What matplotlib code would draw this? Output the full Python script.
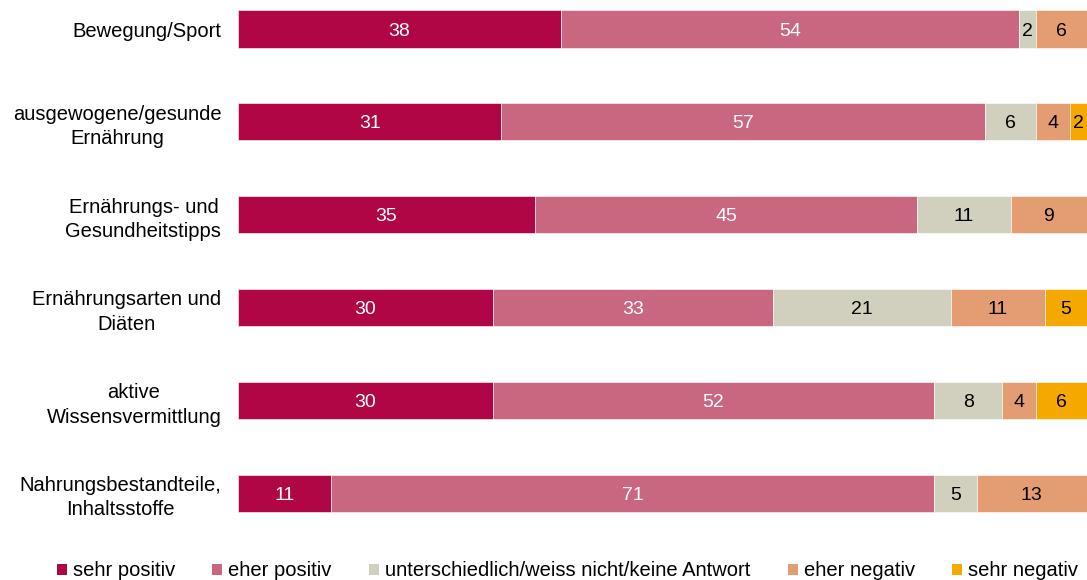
import matplotlib.pyplot as plt
from matplotlib.patches import Patch
import numpy as np

plt.rcParams['font.family'] = ['Liberation Sans', 'DejaVu Sans']

# Kategorien und Anteile in Prozent
categories = ['Bewegung/Sport', 'ausgewogene/gesunde\nErnährung', 'Ernährungs- und\nGesundheitstipps',
              'Ernährungsarten und\nDiäten', 'aktive\nWissensvermittlung', 'Nahrungsbestandteile,\nInhaltsstoffe']
sehr_positiv = [38, 31, 35, 30, 30, 11]
eher_positiv = [54, 57, 45, 33, 52, 71]
unterschiedlich = [2, 6, 11, 21, 8, 5]
eher_negativ = [6, 4, 9, 11, 4, 13]
sehr_negativ = [0, 2, 0, 5, 6, 0]

series = [sehr_positiv, eher_positiv, unterschiedlich, eher_negativ, sehr_negativ]
names = ['sehr positiv', 'eher positiv', 'unterschiedlich/weiss nicht/keine Antwort', 'eher negativ', 'sehr negativ']
colors = ['#B00646', '#C8677F', '#D1D0BF', '#E49D73', '#F5A800']
text_colors = ['white', 'white', 'black', 'black', 'black']

fig = plt.figure(figsize=(10.87, 5.8), dpi=100)
ax = fig.add_axes([238 / 1087, 1 - 520 / 580, 1 - 238 / 1087, 520 / 580])

y = np.arange(len(categories))
left = np.zeros(len(categories))
for vals, col, tcol in zip(series, colors, text_colors):
    vals = np.array(vals, dtype=float)
    bars = ax.barh(y, vals, left=left, height=0.4, color=col, edgecolor='white', linewidth=0.4)
    for b, v in zip(bars, vals):
        if v > 0:
            ax.text(b.get_x() + b.get_width() / 2, b.get_y() + b.get_height() / 2, f'{v:.0f}',
                    ha='center', va='center_baseline', color=tcol, fontsize=14)
    left += vals

ax.set_xlim(0, 100)
ax.set_ylim(5.29, -0.3125)
ax.set_yticks(y)
ax.set_yticklabels(categories, fontsize=14.5, ha='right', multialignment='center', linespacing=1.35)
ax.tick_params(axis='y', length=0, pad=12)
ax.set_xticks([])
for s in ax.spines.values():
    s.set_visible(False)

handles = [Patch(facecolor=c, edgecolor='none') for c in colors]
fig.legend(handles, names, loc='lower center', bbox_to_anchor=(0.522, -0.032), ncol=5, frameon=False,
           fontsize=14.5, handlelength=0.5, handleheight=0.5, handletextpad=0.3, columnspacing=1.85)

fig.savefig('out.png', dpi=100)
